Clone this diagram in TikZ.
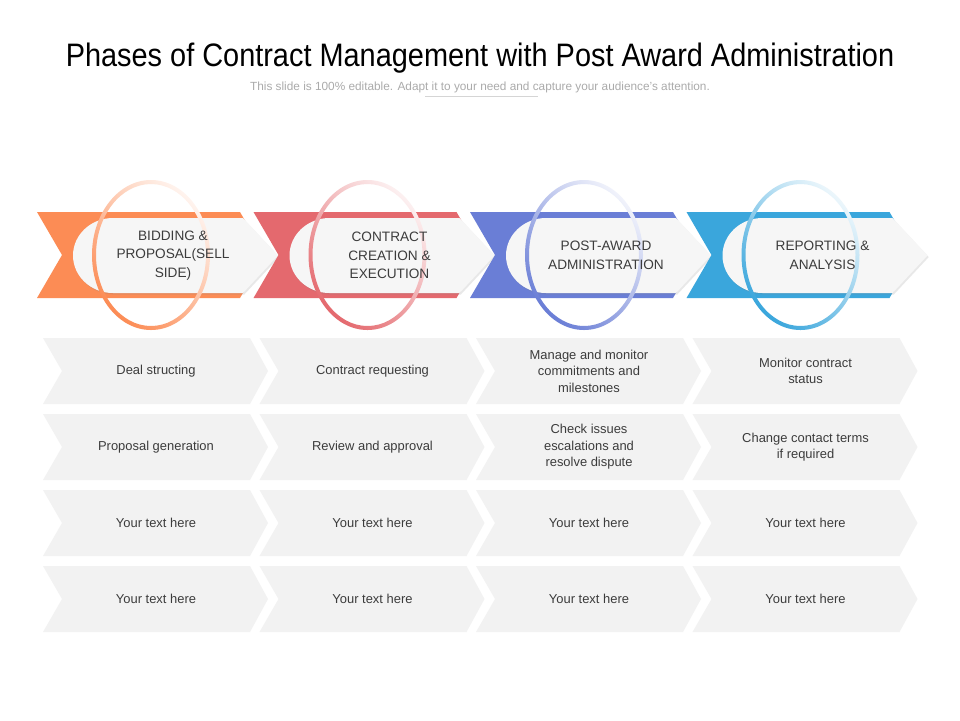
\documentclass[tikz,border=0pt]{standalone}
\usepackage{fontspec}
\setmainfont{Liberation Sans}
\newfontfamily\titlefont[FakeStretch=0.89]{Liberation Sans}
\usetikzlibrary{shadows}

\definecolor{orangeA}{HTML}{FC8C55}
\definecolor{redA}{HTML}{E4696E}
\definecolor{blueA}{HTML}{6A7ED6}
\definecolor{cyanA}{HTML}{3AA6DC}
\definecolor{cellgray}{HTML}{F2F2F2}
\definecolor{innerwhite}{HTML}{F6F6F6}
\definecolor{textgray}{HTML}{3C3C3C}
\definecolor{subgray}{HTML}{ABABAB}

\tikzset{
  head/.style={fill=#1},
  inner/.style={fill=innerwhite,drop shadow={opacity=0.18,shadow xshift=0.3mm,shadow yshift=-0.4mm}},
  ring/.style={even odd rule,bottom color=#1,top color=#1!10,shading angle=-45},
  cell/.style={fill=cellgray},
  headtext/.style={align=center,text=textgray,font=\fontsize{9.7}{13.2}\selectfont},
  celltext/.style={align=center,text=textgray,font=\fontsize{9.2}{11.7}\selectfont}
}

\begin{document}
\begin{tikzpicture}[x=0.25mm,y=-0.25mm]
\fill[white] (0,0) rectangle (960,720);
\useasboundingbox (0,0) rectangle (960,720);

% title and subtitle
\node[anchor=base,font={\titlefont\fontsize{23.1}{27}\selectfont},text=black] (title) at (480,66) {Phases of Contract Management with Post Award Administration};
\node[anchor=base,font=\fontsize{8.4}{10}\selectfont,text=subgray] (sub) at (480,90.7) {This slide is 100\% editable. Adapt it to your need and capture your audience's attention.};
\draw[subgray!50,line width=0.5pt] (425,96) -- (538,96);

% phase headers
\foreach \c/\clr/\htxt in {0/orangeA/{BIDDING \&\\PROPOSAL(SELL\\SIDE)},1/redA/{CONTRACT\\CREATION \&\\EXECUTION},2/blueA/{POST-AWARD\\ADMINISTRATION},3/cyanA/{REPORTING \&\\ANALYSIS}}{
\begin{scope}[shift={(\c*216.5,0)}]
\path[head=\clr] (37,212) -- (240,212) -- (265,255) -- (240,298) -- (37,298) -- (62,255) -- cycle;
\path[inner] (113,218) -- (243,218) -- (278,255.5) -- (243,293) -- (113,293) arc (90:270:40 and 37.5) -- cycle;
\path[ring=\clr] (151,255) ellipse (59 and 75) (151,255) ellipse (55 and 71);
\node[headtext] (h\c) at (173,255.5) {\htxt};
\end{scope}
}

% cells
\foreach \c/\r/\t in {0/0/Deal structing,0/1/Proposal generation,0/2/Your text here,0/3/Your text here,
  1/0/Contract requesting,1/1/Review and approval,1/2/Your text here,1/3/Your text here,
  2/0/{Manage and monitor\\commitments and\\milestones},2/1/{Check issues\\escalations and\\resolve dispute},2/2/Your text here,2/3/Your text here,
  3/0/{Monitor contract\\status},3/1/{Change contact terms\\if required},3/2/Your text here,3/3/Your text here}{
\begin{scope}[shift={(\c*216.5,\r*76)}]
\path[cell] (43,338) -- (250,338) -- (268,371) -- (250,404) -- (43,404) -- (62,371) -- cycle;
\node[celltext] (t\c\r) at (156,371) {\t};
\end{scope}
}
\end{tikzpicture}
\end{document}
